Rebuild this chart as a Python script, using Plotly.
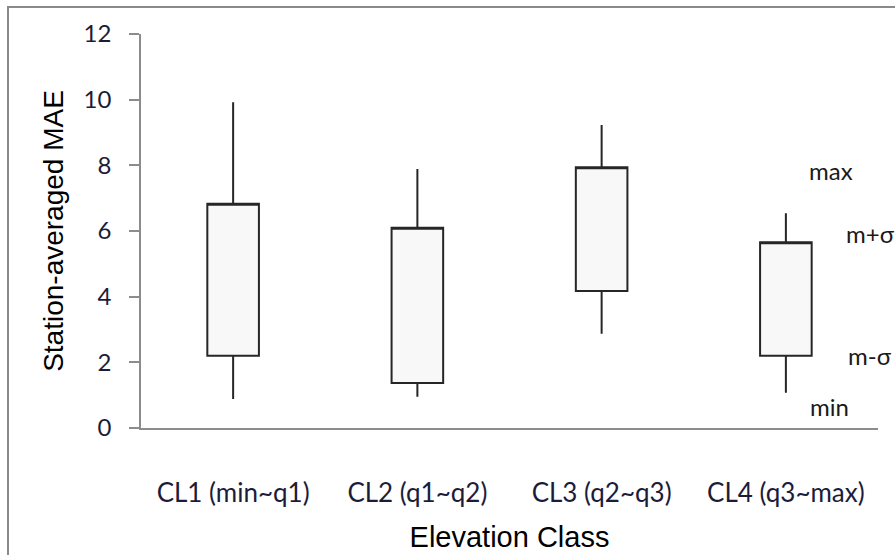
import plotly.graph_objects as go

categories = ["CL1 (min~q1)", "CL2 (q1~q2)", "CL3 (q2~q3)", "CL4 (q3~max)"]
max_vals = [9.92, 7.89, 9.23, 6.54]
upper_vals = [6.83, 6.10, 7.94, 5.66]   # m + sigma
lower_vals = [2.20, 1.37, 4.17, 2.20]   # m - sigma
min_vals = [0.88, 0.95, 2.87, 1.07]

y_ticks = [0, 2, 4, 6, 8, 10, 12]
marker_labels = ["max", "m+σ", "m-σ", "min"]

fig = go.Figure()
fig.add_trace(go.Box(
    x=categories,
    q1=lower_vals,
    median=upper_vals,
    q3=upper_vals,
    lowerfence=min_vals,
    upperfence=max_vals,
    fillcolor="#f8f8f8",
    line=dict(color="#262626", width=2),
    whiskerwidth=0,
    boxpoints=False,
    showlegend=False,
))

# labels explaining box elements, attached to CL4
label_vals = [max_vals[3] + 1.3, upper_vals[3] + 0.25, lower_vals[3] - 0.0, min_vals[3] - 0.4]
label_x = [831, 870, 870, 829]
W, L, R = 895, 141, 17
for txt, yv, xp in zip(marker_labels, label_vals, label_x):
    fig.add_annotation(
        x=(xp - L) / (W - L - R), xref="paper", y=yv, yref="y",
        text=txt, showarrow=False, xanchor="center", yanchor="middle",
        font=dict(family="Lato", size=24, color="#1a1a1a"),
    )

# outer frame (only left and top edges visible in the crop)
fig.add_shape(type="rect", xref="paper", yref="paper",
              x0=(8 - L) / (W - L - R), x1=(905 - L) / (W - L - R),
              y0=(428 - 565) / 394, y1=(428 - 7) / 394,
              line=dict(color="#8a8a8a", width=2), fillcolor="rgba(0,0,0,0)")

fig.update_layout(
    width=895, height=555,
    margin=dict(l=L, r=R, t=34, b=127),
    plot_bgcolor="white", paper_bgcolor="white",
    boxgap=0.6,
    xaxis=dict(
        automargin=False,
        showline=True, linecolor="#8c8c8c", linewidth=1.5,
        showgrid=False, ticks="", ticklabelstandoff=41,
        tickfont=dict(family="Lato", size=26, color="#1c1c3a"),
        title=dict(text="Elevation Class", standoff=20,
                   font=dict(family="Liberation Sans", size=29, color="black")),
    ),
    yaxis=dict(
        automargin=False,
        range=[0, 12], tickvals=y_ticks, showline=True, linecolor="#8c8c8c", linewidth=1.5,
        showgrid=False, zeroline=False, ticks="outside", ticklen=10, tickcolor="#8c8c8c",
        tickwidth=1.5, ticklabelstandoff=13,
        tickfont=dict(family="Lato", size=24, color="#1c1c3a"),
        title=dict(text="Station-averaged MAE", standoff=12,
                   font=dict(family="Liberation Sans", size=28, color="black")),
    ),
)

fig.write_html("out.html", config={"displayModeBar": False},
               post_script="document.body.style.margin='0';document.body.style.overflow='hidden';")
